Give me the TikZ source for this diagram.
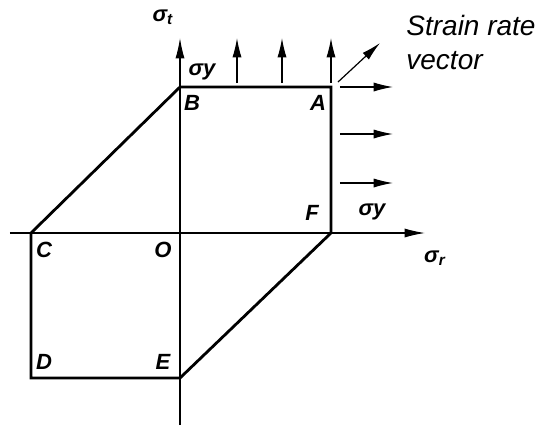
\documentclass[tikz,border=0pt]{standalone}
\usepackage{fontspec}
\setmainfont{Liberation Sans}
\usepackage{tikz}
\usetikzlibrary{arrows.meta,positioning}
\tikzset{
  hexedge/.style={line width=1.4pt, draw=black, line join=miter},
  axisline/.style={-{Latex[length=3.6mm,width=1.6mm]}, line width=0.6pt, draw=black},
  rateedge/.style={-{Latex[length=3.4mm,width=1.6mm]}, line width=0.6pt, draw=black},
  pointlabel/.style={font=\fontsize{11}{13}\selectfont\bfseries\itshape, inner sep=0pt},
  stresslabel/.style={font=\fontsize{11}{13}\selectfont\bfseries\itshape, inner sep=0pt}
}
\begin{document}
\begin{tikzpicture}[x=0.5pt,y=0.5pt]
  \useasboundingbox (-180,-192) rectangle (378,233);
  % corners of the yield hexagon
  \coordinate (O) at (0,0);
  \coordinate (A) at (151,146);
  \coordinate (B) at (0,146);
  \coordinate (C) at (-149,0);
  \coordinate (D) at (-149,-145);
  \coordinate (E) at (0,-145);
  \coordinate (F) at (151,0);
  % axes
  \coordinate (rleft) at (-170,0);
  \coordinate (rtip) at (245,0);
  \coordinate (tbottom) at (0,-192);
  \coordinate (ttip) at (0,195);
  \draw[axisline] (rleft) -- (rtip);
  \draw[axisline] (tbottom) -- (ttip);
  % hexagon
  \draw[hexedge] (A) -- (B) -- (C) -- (D) -- (E) -- (F) -- cycle;
  % strain rate vectors
  \foreach \px/\name in {57/u1, 102/u2, 151/u3}{
    \coordinate (\name s) at (\px,150);
    \coordinate (\name e) at (\px,195);
    \draw[rateedge] (\name s) -- (\name e);
  }
  \foreach \py/\name in {146/h1, 99/h2, 50/h3}{
    \coordinate (\name s) at (160,\py);
    \coordinate (\name e) at (213,\py);
    \draw[rateedge] (\name s) -- (\name e);
  }
  \coordinate (dgs) at (158,151);
  \coordinate (dge) at (200,190);
  \draw[rateedge] (dgs) -- (dge);
  % labels
  \node[pointlabel] (lA) at (138,130) {A};
  \node[pointlabel] (lB) at (12,130) {B};
  \node[pointlabel] (lC) at (-136,-17) {C};
  \node[pointlabel] (lD) at (-136,-129) {D};
  \node[pointlabel] (lE) at (-17,-129) {E};
  \node[pointlabel] (lF) at (132,20) {F};
  \node[pointlabel] (lO) at (-17,-17) {O};
  \node[stresslabel] (st) at (-17,216) {σ\textsubscript{t}};
  \node[stresslabel] (sr) at (255,-25) {σ\textsubscript{r}};
  \node[stresslabel] (syt) at (22,161) {σy};
  \node[stresslabel] (syr) at (192,21) {σy};
  \node[font=\fontsize{14}{17}\selectfont\itshape, align=left, anchor=north west, inner sep=0pt] (rate) at (226,218) {Strain rate\\ vector};
\end{tikzpicture}
\end{document}
